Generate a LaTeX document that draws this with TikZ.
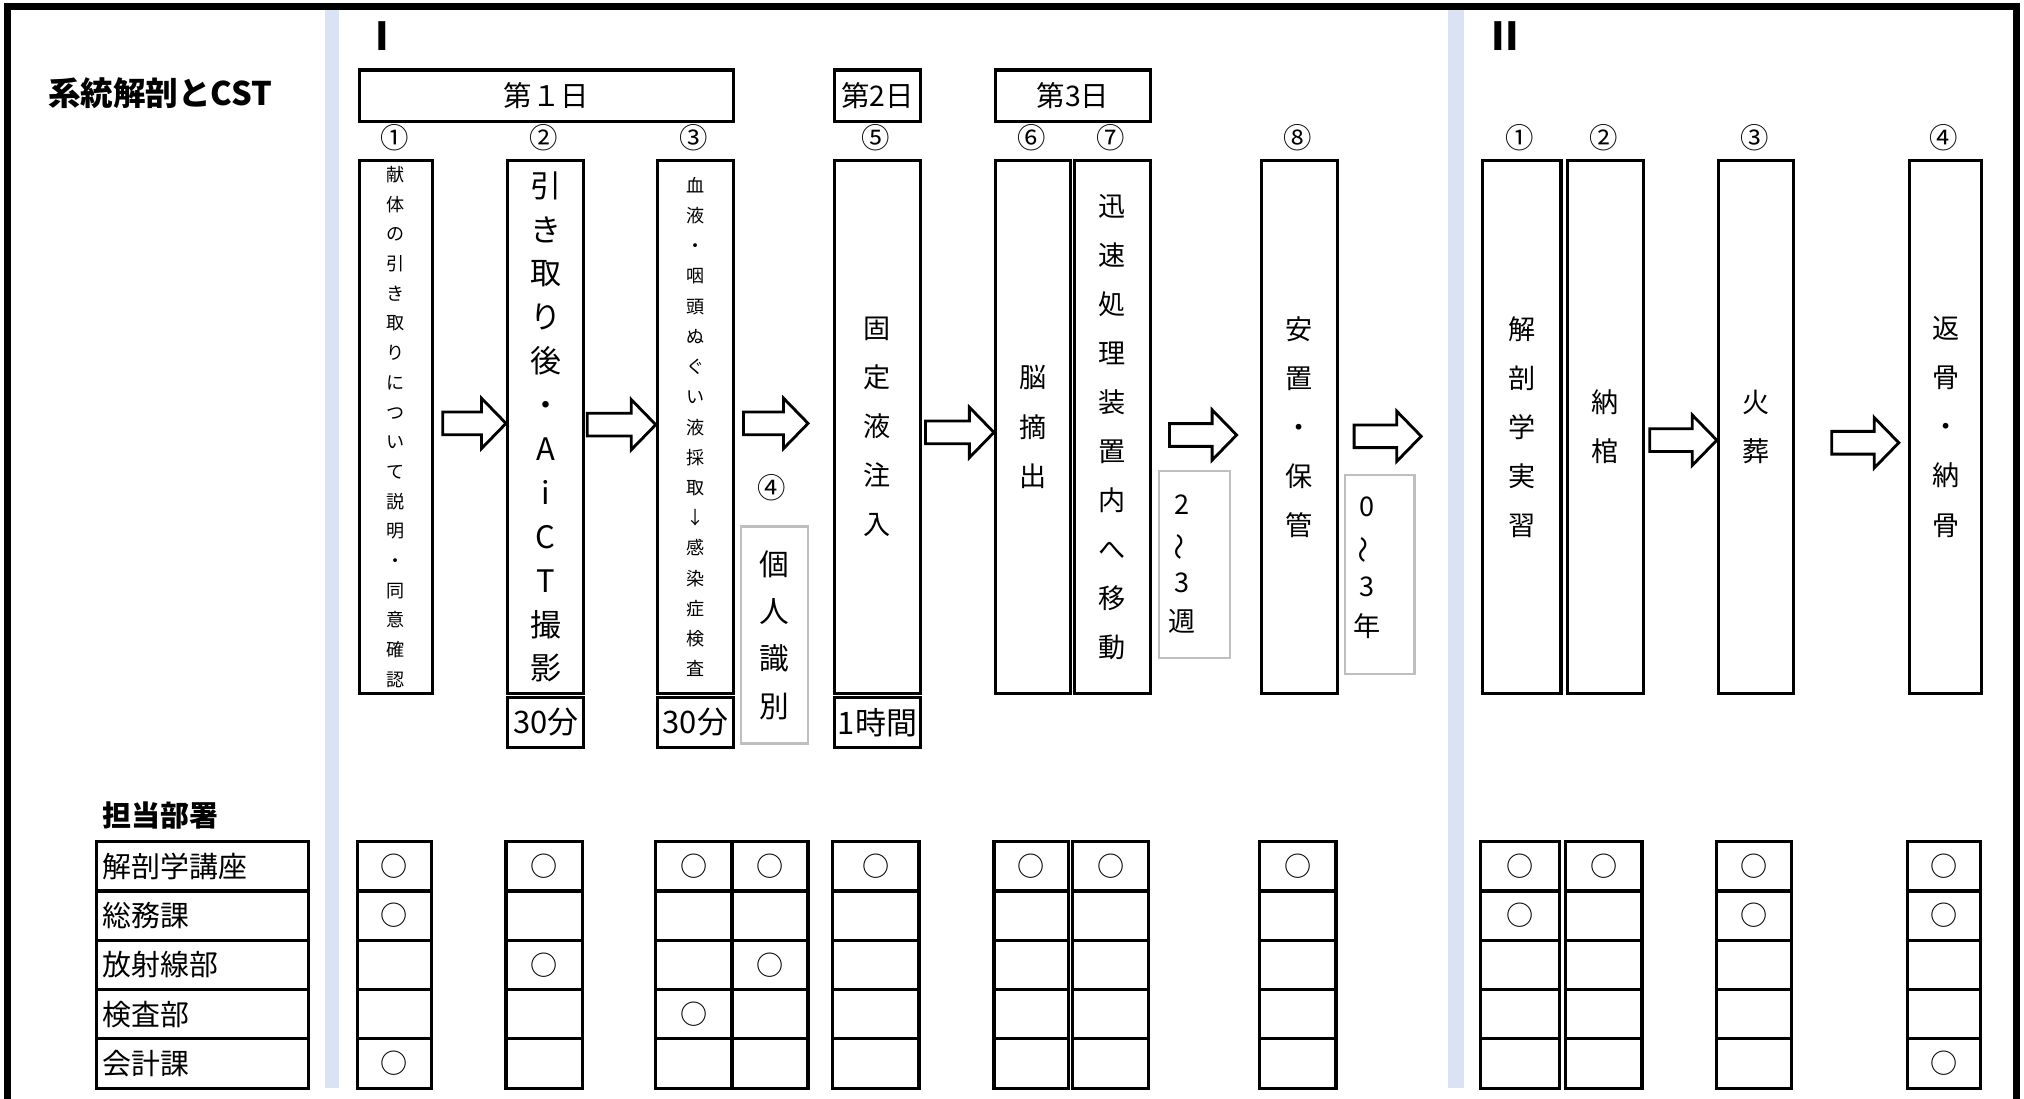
\documentclass[tikz,border=0pt]{standalone}
\usepackage{fontspec}
\setmainfont{Noto Sans CJK JP}
\usepackage{graphicx}
\definecolor{bandcol}{HTML}{DAE3F3}
\definecolor{gboxcol}{HTML}{BFBFBF}
\newcommand\setfs[2]{\fontsize{#1}{#2}\selectfont}
\tikzset{
  x={(0.5pt,0pt)}, y={(0pt,-0.5pt)},
  box/.style={draw, line width=1.25pt, inner sep=0pt, align=center},
  graybox/.style={draw=gboxcol, line width=0.9pt, inner sep=0pt, align=center},
  blockarrow/.style={draw, line width=1.1pt, fill=white, line join=miter},
  numlab/.style={font=\setfs{11}{11}, inner sep=0pt},
  cellmark/.style={font=\setfs{10.5}{10.5}, inner sep=0pt},
  grid line/.style={line width=1.25pt},
  heading/.style={font=\setfs{12.6}{12.6}\bfseries, inner sep=0pt, anchor=west},
}
% tall box: name, x1, x2, font, text
\newcommand\tallbox[5]{%
  \node[box, minimum width={(#3-#2)*0.5pt}, minimum height={413*0.5pt},
        anchor=north west, font=#4] (#1) at (#2,123) {#5};}
% small box under a tall box: name, x1, x2, text
\newcommand\timebox[4]{%
  \node[box, minimum width={(#3-#2)*0.5pt}, minimum height={39*0.5pt},
        anchor=north west, font=\setfs{12}{12}] (#1) at (#2,539) {#4};}
% block arrow: tail x, tip x, centre y
\newcommand\barrow[3]{%
  \draw[blockarrow] (#1,#3-8.8) -- (#2-19,#3-8.8) -- (#2-19,#3-19.5) -- (#2,#3)
    -- (#2-19,#3+19.5) -- (#2-19,#3+8.8) -- (#1,#3+8.8) -- cycle;}
% department grid column: x1, x2
\newcommand\colgrid[2]{%
  \draw[grid line] (#1,652) rectangle (#2,843);
  \foreach \yy in {690.2,728.4,766.6,804.8} \draw[grid line] (#1,\yy) -- (#2,\yy);}
\newcommand\vwave{\rotatebox[origin=c]{90}{〜}}
\begin{document}
\begin{tikzpicture}
\useasboundingbox (0,0) rectangle (1568,851);
% background bands
\fill[bandcol] (252,7) rectangle (263,843);
\fill[bandcol] (1122,7) rectangle (1134,843);
% outer frame
\draw[line width=2.6pt] (6,851) -- (6,5) -- (1562,5) -- (1562,851);

% headings
\node[heading] (title) at (37,72) {系統解剖とCST};
\node[heading, font=\setfs{11.2}{11.2}\bfseries] (dept) at (79,632) {担当部署};
\node[font=\setfs{15}{15}\bfseries, inner sep=0pt] (secI) at (296,28) {I};
\node[font=\setfs{15}{15}\bfseries, inner sep=0pt] (secII) at (1166,28) {II};

% day boxes
\node[box, minimum width={290*0.5pt}, minimum height={40*0.5pt}, anchor=north west, font=\setfs{11}{11}] (day1) at (277,53) {第１日};
\node[box, minimum width={67*0.5pt}, minimum height={40*0.5pt}, anchor=north west, font=\setfs{11}{11}] (day2) at (645,53) {第2日};
\node[box, minimum width={120*0.5pt}, minimum height={40*0.5pt}, anchor=north west, font=\setfs{11}{11}] (day3) at (770,53) {第3日};

% step numbers
\node[numlab] (n1) at (305.5,107) {①};
\node[numlab] (n2) at (421.5,107) {②};
\node[numlab] (n3) at (537.5,107) {③};
\node[numlab] (n4) at (598,378) {④};
\node[numlab] (n5) at (678.5,107) {⑤};
\node[numlab] (n6) at (799,107) {⑥};
\node[numlab] (n7) at (860.5,107) {⑦};
\node[numlab] (n8) at (1005.5,107) {⑧};
\node[numlab] (m1) at (1177.5,107) {①};
\node[numlab] (m2) at (1242.5,107) {②};
\node[numlab] (m3) at (1359,107) {③};
\node[numlab] (m4) at (1506,107) {④};

% tall boxes
\tallbox{b1}{277}{334}{\setfs{7}{11.5}}{献\\体\\の\\引\\き\\取\\り\\に\\つ\\い\\て\\説\\明\\・\\同\\意\\確\\認}
\tallbox{b2}{392}{451}{\setfs{12}{17}}{引\\き\\取\\り\\後\\・\\A\\i\\C\\T\\撮\\影}
\tallbox{b3}{508}{567}{\setfs{7}{11.7}}{血\\液\\・\\咽\\頭\\ぬ\\ぐ\\い\\液\\採\\取\\↓\\感\\染\\症\\検\\査}
\tallbox{b5}{645}{712}{\setfs{10.5}{19}}{固\\定\\液\\注\\入}
\tallbox{b6}{770}{828}{\setfs{10.5}{19}}{脳\\摘\\出}
\tallbox{b7}{831}{890}{\setfs{10.5}{19}}{迅\\速\\処\\理\\装\\置\\内\\へ\\移\\動}
\tallbox{b8}{976}{1035}{\setfs{10.5}{19}}{安\\置\\・\\保\\管}
\tallbox{e1}{1147}{1208}{\setfs{10.5}{19}}{解\\剖\\学\\実\\習}
\tallbox{e2}{1213}{1272}{\setfs{10.5}{19}}{納\\棺}
\tallbox{e3}{1330}{1388}{\setfs{10.5}{19}}{火\\葬}
\tallbox{e4}{1478}{1534}{\setfs{10.5}{19}}{返\\骨\\・\\納\\骨}

% time boxes
\timebox{t2}{392}{451}{30分}
\timebox{t3}{508}{567}{30分}
\timebox{t5}{645}{712}{1時間}

% gray boxes
\node[graybox, minimum width={52*0.5pt}, minimum height={168*0.5pt}, anchor=north west, font=\setfs{11.5}{18.3}] (g4) at (573,407) {個\\人\\識\\別};
\node[graybox, minimum width={55*0.5pt}, minimum height={145*0.5pt}, anchor=north west] (g7) at (897,364) {};
\node[align=center, inner sep=0pt, font=\setfs{10.5}{15}] (g7t) at (916,437) {2\\\vwave\\3\\週};
\node[graybox, minimum width={54*0.5pt}, minimum height={154*0.5pt}, anchor=north west] (g8) at (1041,367) {};
\node[align=center, inner sep=0pt, font=\setfs{10.5}{15.5}] (g8t) at (1059,440) {0\\\vwave\\3\\年};

% block arrows
\barrow{343}{392}{328}
\barrow{455}{508}{329}
\barrow{576}{626}{328}
\barrow{717}{770}{335}
\barrow{906}{958}{337}
\barrow{1049}{1101}{338}
\barrow{1278}{1330}{341}
\barrow{1419}{1471}{343}

% department table
\colgrid{75}{239}
\node[anchor=west, inner sep=0pt, font=\setfs{11.2}{11.2}] (r1) at (79,671.1) {解剖学講座};
\node[anchor=west, inner sep=0pt, font=\setfs{11.2}{11.2}] (r2) at (79,709.3) {総務課};
\node[anchor=west, inner sep=0pt, font=\setfs{11.2}{11.2}] (r3) at (79,747.5) {放射線部};
\node[anchor=west, inner sep=0pt, font=\setfs{11.2}{11.2}] (r4) at (79,785.7) {検査部};
\node[anchor=west, inner sep=0pt, font=\setfs{11.2}{11.2}] (r5) at (79,823.9) {会計課};

\colgrid{277}{334}
\colgrid{392}{451}
\colgrid{508}{567}
\colgrid{567}{626}
\colgrid{645}{712}
\colgrid{770}{828}
\colgrid{831}{890}
\colgrid{976}{1035}
\colgrid{1147}{1208}
\colgrid{1213}{1272}
\colgrid{1330}{1388}
\colgrid{1478}{1534}

% marks: row 1
\foreach \cx/\nm in {305.5/a1,421.5/a2,537.5/a3,596.5/a4,678.5/a5,799/a6,860.5/a7,1005.5/a8,1177.5/a9,1242.5/a10,1359/a11,1506/a12}
  \node[cellmark] (k1\nm) at (\cx,671.1) {○};
% row 2
\foreach \cx/\nm in {305.5/a1,1177.5/a9,1359/a11,1506/a12}
  \node[cellmark] (k2\nm) at (\cx,709.3) {○};
% row 3
\foreach \cx/\nm in {421.5/a2,596.5/a4}
  \node[cellmark] (k3\nm) at (\cx,747.5) {○};
% row 4
\node[cellmark] (k4a3) at (537.5,785.7) {○};
% row 5
\foreach \cx/\nm in {305.5/a1,1506/a12}
  \node[cellmark] (k5\nm) at (\cx,823.9) {○};
\end{tikzpicture}
\end{document}
